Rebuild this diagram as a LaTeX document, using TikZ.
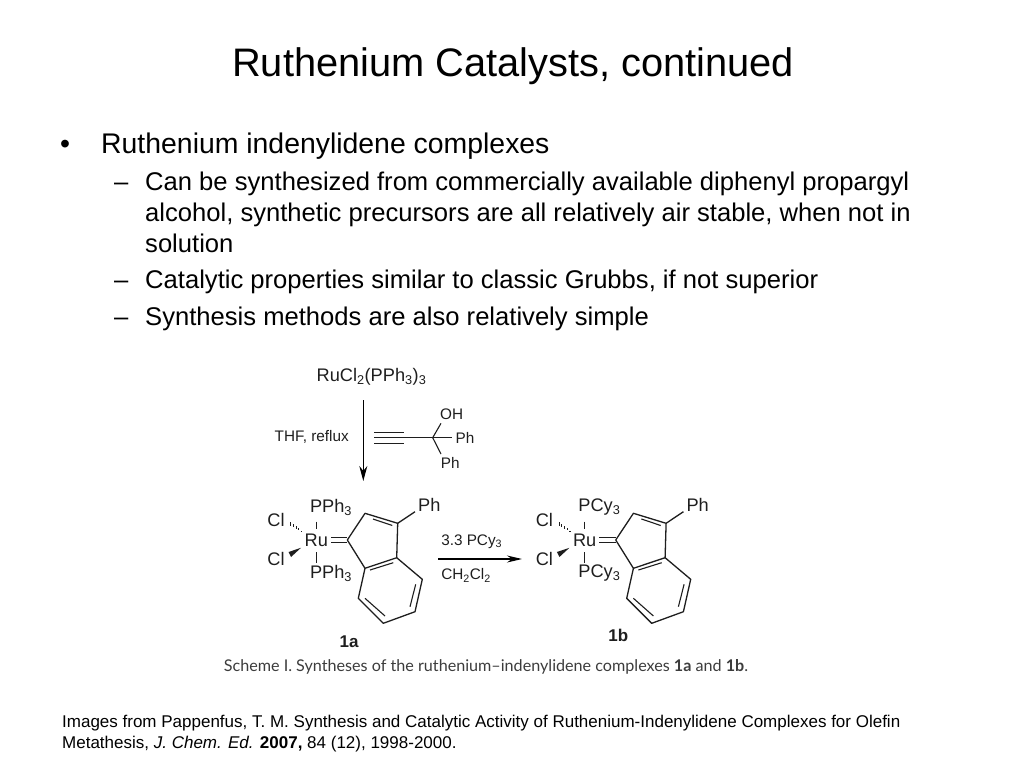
\documentclass[tikz,border=0pt]{standalone}
\usepackage{fontspec}
\setmainfont{Liberation Sans}
\newfontfamily\captionfont{Lato}
\usetikzlibrary{arrows.meta}
\definecolor{SchemeClr}{RGB}{30,30,30}
\definecolor{CaptionClr}{RGB}{60,60,60}

\tikzset{
  slidetxt/.style={anchor=base west,inner sep=0pt},
  titletxt/.style={slidetxt,font=\fontsize{39.8}{40}\selectfont},
  maintxt/.style={slidetxt,font=\fontsize{28.4}{31}\selectfont},
  subtxt/.style={slidetxt,font=\fontsize{25.6}{31}\selectfont},
  foottxt/.style={slidetxt,font=\fontsize{17}{21}\selectfont},
  atomtxt/.style={inner sep=0pt,text=SchemeClr,font=\fontsize{18.2}{20}\selectfont},
  smalltxt/.style={inner sep=0pt,text=SchemeClr,font=\fontsize{15.3}{17}\selectfont},
  labeltxt/.style={inner sep=0pt,text=SchemeClr,font=\bfseries\fontsize{17}{18}\selectfont},
  bond/.style={line width=1.3pt,draw=SchemeClr},
  thinbond/.style={line width=1.1pt,draw=SchemeClr},
  rxnarrow/.style={line width=1.4pt,draw=black,-{Stealth[length=15pt,width=8pt]}},
}

% ruthenium complex, #1 = prefix, #2 = shift, #3 = ligand
\newcommand{\RuComplex}[3]{
\begin{scope}[shift={(#2,0)}]
\node[atomtxt] (#1Ru) at (316.3,540) {Ru};
\node[atomtxt] (#1Ltop) at (331,507) {#3};
\node[atomtxt] (#1Lbot) at (331,573.5) {#3};
\node[atomtxt] (#1ClA) at (276,520) {Cl};
\node[atomtxt] (#1ClB) at (276,559.3) {Cl};
\node[atomtxt] (#1Ph) at (429.3,505) {Ph};

\coordinate (#1a) at (347.3,540);
\coordinate (#1b) at (365,513.3);
\coordinate (#1c) at (397.7,523.3);
\coordinate (#1d) at (396.7,557.7);
\coordinate (#1e) at (365,568.3);
\coordinate (#1f) at (358.3,598.3);
\coordinate (#1g) at (383.3,623.3);
\coordinate (#1h) at (415,611.7);
\coordinate (#1i) at (422.3,579.3);

\draw[bond,line join=round] (#1a) -- (#1b) -- (#1c) -- (#1d) -- (#1e) -- (#1a);
\draw[bond,line join=round] (#1e) -- (#1f) -- (#1g) -- (#1h) -- (#1i) -- (#1d);
\draw[bond] (#1c) -- (415,511.7);

% inner lines of the double bonds
\draw[thinbond] (373,519) -- (392.3,525.5);
\draw[thinbond] (370,570) -- (393.3,562.7);
\draw[thinbond] (415.7,584.3) -- (410,606.7);
\draw[thinbond] (365,598.3) -- (385,616);

\draw[thinbond] (331,537.7) -- (347.3,537.7);
\draw[thinbond] (331,542.7) -- (347.3,542.7);
\draw[thinbond] (316.3,521.7) -- (316.3,529.3);
\draw[thinbond] (316.3,552.3) -- (316.3,562.7);

% wedges
\fill[SchemeClr] (301,547.8) -- (288.5,552) -- (291,557) -- cycle;
\foreach \i/\w in {0/.5,1/.8,2/1.1,3/1.4,4/1.7}
  \fill[SchemeClr] ({301.5-\i*2.7-.6},{531-\i*1.8-\w}) rectangle ({301.5-\i*2.7+.6},{531-\i*1.8+\w});
\end{scope}
}

\begin{document}
\begin{tikzpicture}[x=1pt,y=-1pt]
\useasboundingbox (0,0) rectangle (1024,768);

\node[titletxt] (title) at (232,77) {Ruthenium Catalysts, continued};

\node[maintxt] (bulletA) at (60,153) {•};
\node[maintxt] (itemA) at (101,153) {Ruthenium indenylidene complexes};

\node[subtxt] (dashA) at (114,190) {–};
\node[subtxt] (subA) at (145,190) {Can be synthesized from commercially available diphenyl propargyl};
\node[subtxt] (subAb) at (145,221) {alcohol, synthetic precursors are all relatively air stable, when not in};
\node[subtxt] (subAc) at (145,252) {solution};
\node[subtxt] (dashB) at (114,288) {–};
\node[subtxt] (subB) at (145,288) {Catalytic properties similar to classic Grubbs, if not superior};
\node[subtxt] (dashC) at (114,325) {–};
\node[subtxt] (subC) at (145,325) {Synthesis methods are also relatively simple};

% reagents
\node[atomtxt] (start) at (371.5,376.7) {RuCl\textsubscript{2}(PPh\textsubscript{3})\textsubscript{3}};
\node[smalltxt] (thf) at (311.7,436.7) {THF, reflux};
\coordinate (arrowA) at (363.3,400);
\coordinate (arrowB) at (363.3,481);
\draw[rxnarrow] (arrowA) -- (arrowB);

% propargyl alcohol
\node[smalltxt] (oh) at (451.7,414.3) {OH};
\node[smalltxt] (phA) at (465,438.3) {Ph};
\node[smalltxt] (phB) at (450.3,463.3) {Ph};
\coordinate (cq) at (432.7,437.7);
\coordinate (yneA) at (374.3,437.7);
\coordinate (yneB) at (404,437.7);
\draw[thinbond] (yneA) -- (cq);
\draw[thinbond] ([yshift=-5.5pt]yneA) -- ([yshift=-5.5pt]yneB);
\draw[thinbond] ([yshift=5.5pt]yneA) -- ([yshift=5.5pt]yneB);
\draw[thinbond] (cq) -- (441,423.3);
\draw[thinbond] (cq) -- (451.7,437.7);
\draw[thinbond] (cq) -- (441,454);

\RuComplex{p}{0}{PPh\textsubscript{3}}
\RuComplex{q}{268.4}{PCy\textsubscript{3}}

\node[labeltxt] (labA) at (349,641.7) {1a};
\node[labeltxt] (labB) at (618.3,635.7) {1b};

\node[smalltxt] (cond) at (471.7,541.7) {3.3 PCy\textsubscript{3}};
\node[smalltxt] (solv) at (466,575.7) {CH\textsubscript{2}Cl\textsubscript{2}};
\coordinate (arrowC) at (438,559);
\coordinate (arrowD) at (522,559);
\draw[rxnarrow,line width=1.2pt,-{Stealth[length=15pt,width=7pt]}] (arrowC) -- (arrowD);

\node[inner sep=0pt,text=CaptionClr,font=\captionfont\fontsize{16.15}{18}\selectfont] (scheme) at (486,667) {Scheme I. Syntheses of the ruthenium–indenylidene complexes \textbf{1a} and \textbf{1b}.};

\node[foottxt] (footA) at (62,727) {Images from Pappenfus, T. M. Synthesis and Catalytic Activity of Ruthenium-Indenylidene Complexes for Olefin};
\node[foottxt] (footB) at (62,748) {Metathesis, \textit{J. Chem. Ed.} \textbf{2007,} 84 (12), 1998-2000.};
\end{tikzpicture}
\end{document}
